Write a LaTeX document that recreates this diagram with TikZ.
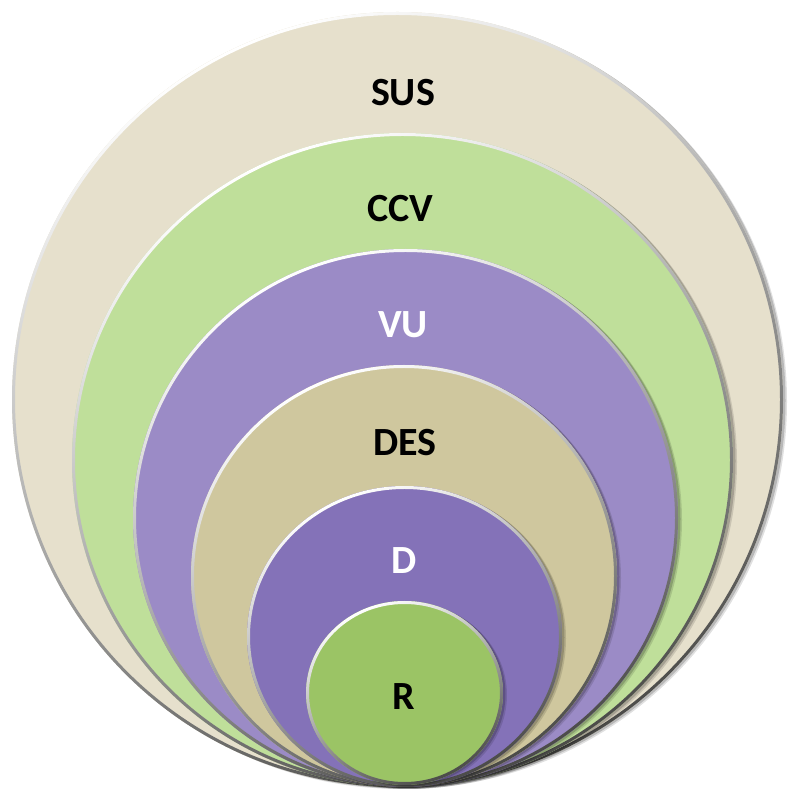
\documentclass[tikz,border=0pt]{standalone}
\usepackage{fontspec}
\setmainfont{Carlito}
\begin{document}
\definecolor{susfill}{HTML}{E6E0CC}
\definecolor{ccvfill}{HTML}{BFDF9A}
\definecolor{vufill}{HTML}{9B8BC6}
\definecolor{desfill}{HTML}{CFC79E}
\definecolor{dfill}{HTML}{8472B8}
\definecolor{rfill}{HTML}{9BC465}
\definecolor{rimdark}{HTML}{4A4A48}
\begin{tikzpicture}[x=1pt,y=1pt,
  lbl/.style={anchor=base, inner sep=0pt, font=\fontsize{40}{40}\selectfont\bfseries},
  darklbl/.style={lbl, text=black},
  lightlbl/.style={lbl, text=white}]
\useasboundingbox (0,0) rectangle (790,790);
% one bevelled disc: centre x, centre y, x radius, y radius, fill colour
\def\bevdisc#1#2#3#4#5{%
  \fill[black, opacity=0.12] (#1+4,#2-2) ellipse [x radius=#3, y radius=#4];
  \fill[black, opacity=0.18] (#1+2.5,#2-1) ellipse [x radius=#3, y radius=#4];
  \fill[#5] (#1,#2) ellipse [x radius=#3, y radius=#4];
  \shade[even odd rule, shading=axis, top color=white, bottom color=rimdark,
         shading angle=25]
    (#1,#2) ellipse [x radius=#3, y radius=#4]
    (#1,#2) ellipse [x radius=#3-3, y radius=#4-3];
}
\bevdisc{397.5}{390.5}{385.5}{387.5}{susfill}
\bevdisc{402.5}{330}{330.5}{327}{ccvfill}
\bevdisc{405.5}{272}{272.5}{269}{vufill}
\bevdisc{404}{214}{213}{211}{desfill}
\bevdisc{404.5}{153.5}{157.5}{150.5}{dfill}
\bevdisc{404.5}{97}{98.5}{92}{rfill}
% labels
\node[darklbl]  (sus) at (403,684) {SUS};
\node[darklbl]  (ccv) at (400,568) {CCV};
\node[lightlbl] (vu)  at (403,452) {VU};
\node[darklbl]  (des) at (405,334) {DES};
\node[lightlbl] (d)   at (404,216) {D};
\node[darklbl]  (r)   at (404,80)  {R};
\end{tikzpicture}
\end{document}
